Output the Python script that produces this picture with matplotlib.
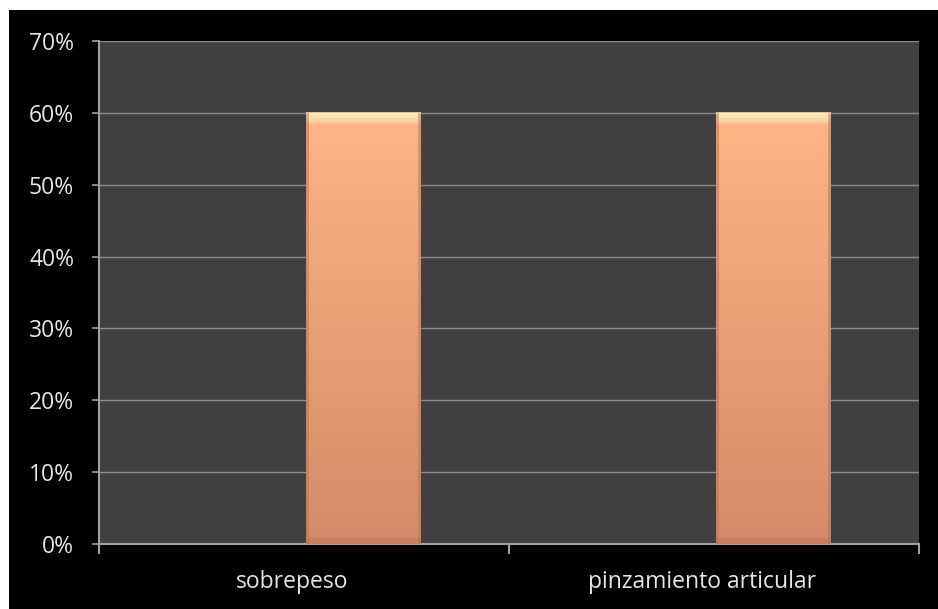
import numpy as np
import matplotlib
matplotlib.use("Agg")
import matplotlib.pyplot as plt
from matplotlib.colors import LinearSegmentedColormap
from matplotlib.patches import Rectangle

# chart data
categories = ["sobrepeso", "pinzamiento articular"]
values = [60, 60]
y_ticks = [0, 10, 20, 30, 40, 50, 60, 70]
y_tick_labels = ["0%", "10%", "20%", "30%", "40%", "50%", "60%", "70%"]

plt.rcParams['font.family'] = ['Open Sans', 'DejaVu Sans']

fig = plt.figure(figsize=(9.38, 6.09), dpi=100, facecolor="black")
# white margins at top and left, as in the original screenshot
fig.patches.append(Rectangle((0, 599 / 609), 1, 10 / 609, transform=fig.transFigure,
                             facecolor="white", edgecolor="none", zorder=0))
fig.patches.append(Rectangle((0, 0), 9 / 938, 1, transform=fig.transFigure,
                             facecolor="white", edgecolor="none", zorder=0))

ax = fig.add_axes([99 / 938, 65 / 609, 820 / 938, 503 / 609])
ax.set_facecolor("#404040")

x = np.arange(len(categories))
bar_w = 0.28
offset = 0.145

body = LinearSegmentedColormap.from_list("body", ["#d48a68", "#ffb586"])
grad = np.linspace(0, 1, 256).reshape(-1, 1)

bars = ax.bar(x + offset, values, width=bar_w, color="none", zorder=3)
for b in bars:
    x0, w, h = b.get_x(), b.get_width(), b.get_height()
    ax.imshow(grad, cmap=body, origin="lower", aspect="auto",
              extent=(x0, x0 + w, 0, h), zorder=3)
    # bevel: light top, darker sides and bottom
    ax.imshow(np.linspace(0, 1, 64).reshape(-1, 1),
              cmap=LinearSegmentedColormap.from_list("top", ["#ffbf8c", "#fff2c8"]),
              origin="lower", aspect="auto", extent=(x0, x0 + w, h - 1.5, h), zorder=4)
    ax.add_patch(Rectangle((x0, 0), w * 0.025, h, facecolor="#b87356", alpha=0.5,
                           edgecolor="none", zorder=4))
    ax.add_patch(Rectangle((x0 + w * 0.975, 0), w * 0.025, h, facecolor="#b87356",
                           alpha=0.5, edgecolor="none", zorder=4))
    ax.add_patch(Rectangle((x0, 0), w, 0.9, facecolor="#b87356", alpha=0.4,
                           edgecolor="none", zorder=4))

ax.set_xlim(-0.5, len(categories) - 0.5)
ax.set_ylim(0, 70)
ax.set_yticks(y_ticks)
ax.set_yticklabels(y_tick_labels)
ax.set_xticks(x - 0.03)
ax.set_xticklabels(categories)
ax.set_xticks(np.arange(len(categories) + 1) - 0.5, minor=True)

ax.grid(axis="y", color="#8c8c8c", linewidth=1, zorder=1)
ax.set_axisbelow(True)

for s in ["top", "right"]:
    ax.spines[s].set_visible(False)
for s in ["left", "bottom"]:
    ax.spines[s].set_color("#a0a0a0")
    ax.spines[s].set_linewidth(1.5)

ax.tick_params(axis="y", colors="#a0a0a0", labelcolor="#e6e6e6", length=5,
               width=1.2, pad=13, labelsize=16.5)
ax.tick_params(axis="x", which="major", length=0, pad=19, labelcolor="#e6e6e6",
               labelsize=16.5)
ax.tick_params(axis="x", which="minor", length=7, width=1.5, colors="#a0a0a0")

fig.savefig("out.png", dpi=100, facecolor=fig.get_facecolor())
